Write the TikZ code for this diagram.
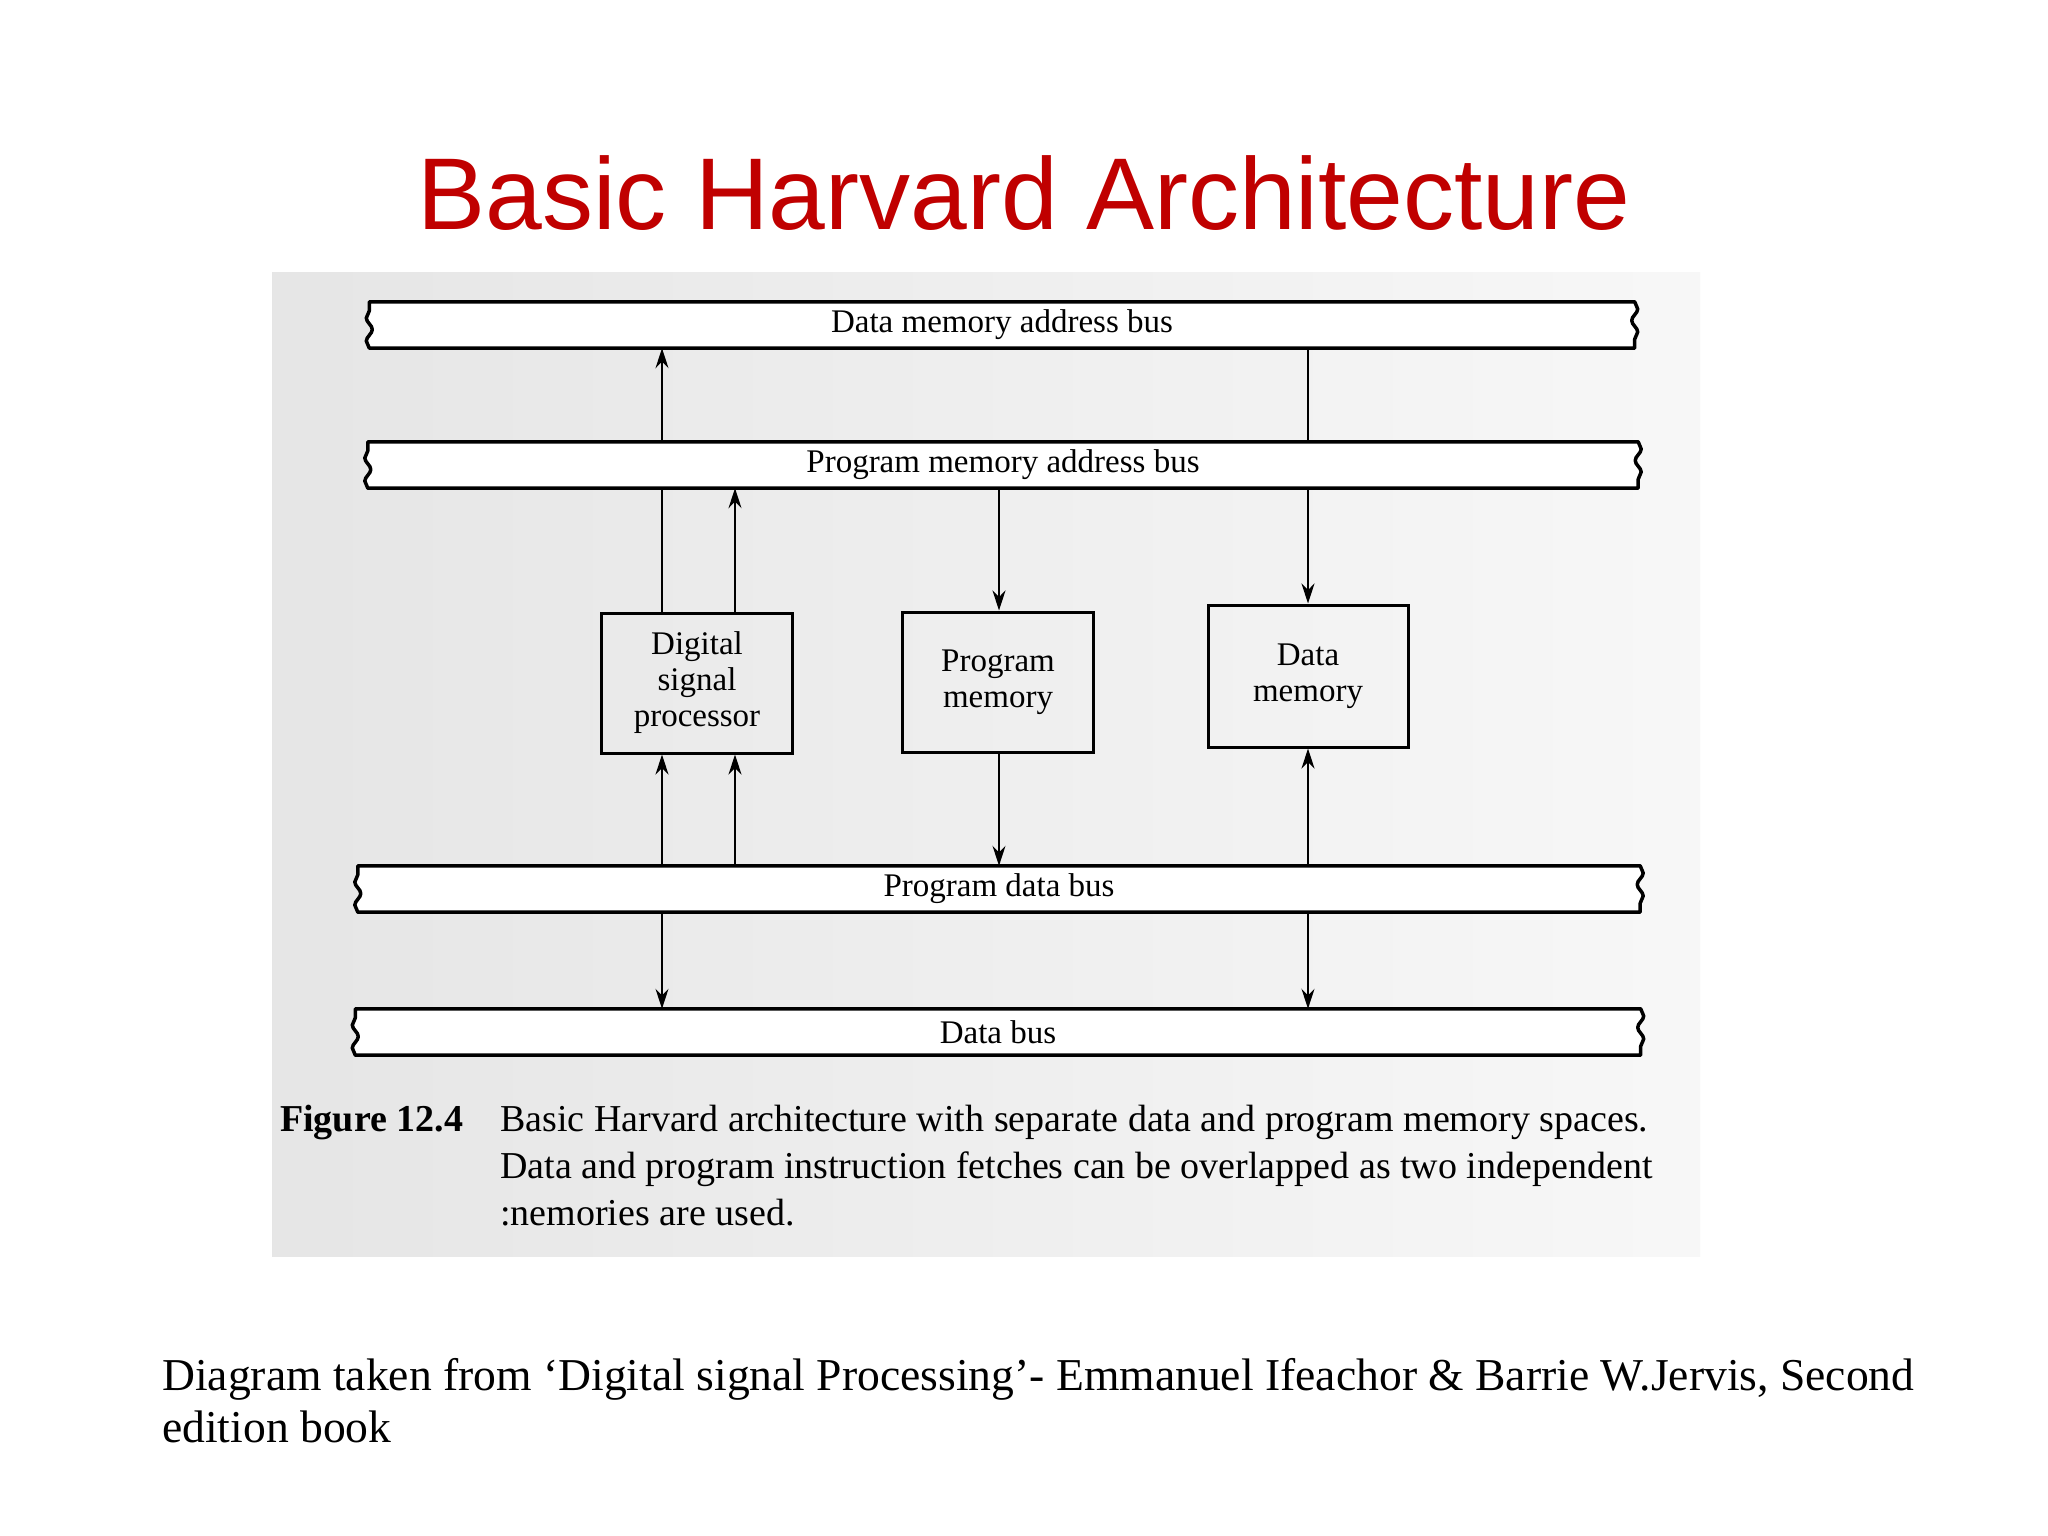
\documentclass[tikz,border=0pt]{standalone}
\usepackage{fontspec}
\setmainfont{Liberation Serif}
\newfontfamily\headfont{Liberation Sans}
\usetikzlibrary{arrows.meta,backgrounds,decorations.pathmorphing}

\definecolor{headred}{HTML}{C00000}

\tikzstyle{bus}=[rectangle,minimum height=46pt,inner sep=0pt,font=\fontsize{33}{36}\selectfont]
\tikzstyle{unit}=[rectangle,draw,line width=3pt,minimum width=191pt,minimum height=140pt,inner sep=0pt,align=center,font=\fontsize{33}{36}\selectfont]
\tikzstyle{link}=[line width=1.6pt,>={Stealth[length=20pt,width=13pt]}]
\tikzstyle{busedge}=[line width=3.5pt,fill=white,line join=round]
\tikzstyle{busend}=[decoration={snake,amplitude=3pt,segment length=23pt}]

% outline of a bus, cut off at both ends
\newcommand{\drawbus}[1]{%
  \draw[busedge] (#1.north west) -- (#1.north east)
    decorate[busend] {-- (#1.south east)} -- (#1.south west)
    decorate[busend] {-- (#1.north west)} -- cycle;}

\begin{document}
\begin{tikzpicture}[x=1pt,y=-1pt]
\useasboundingbox (0,0) rectangle (2048,1536);

\node[anchor=base,inner sep=0pt,text=headred,font=\headfont\fontsize{102}{110}\selectfont] (title) at (1024,229) {Basic Harvard Architecture};

% the four buses
\node[bus,minimum width=1265pt] (dmab) at (1002,325) {Data memory address bus};
\node[bus,minimum width=1270pt] (pmab) at (1003,465) {Program memory address bus};
\node[bus,minimum width=1282pt] (pdb) at (999,889) {Program data bus};
\node[bus,minimum width=1285pt] (db) at (998,1032) {Data bus};

% processor and memories
\node[unit] (dsp) at (697,683) {Digital\\signal\\processor};
\node[unit] (pm) at (998,682) {Program\\memory};
\node[unit,minimum width=200pt,minimum height=142pt] (dm) at (1308,676) {Data\\memory};

\coordinate (la) at (662,0);
\coordinate (lb) at (735,0);
\coordinate (lc) at (999,0);
\coordinate (ld) at (1308,0);

% caption of the book figure (base = last line)
\node[anchor=base west,inner sep=0pt,font=\bfseries\fontsize{38}{47}\selectfont] (fig) at (280,1131) {Figure 12.4};
\node[anchor=base west,inner sep=0pt,align=left,font=\fontsize{38}{47}\selectfont] (caption) at (500,1225) {Basic Harvard architecture with separate data and program memory spaces.\\Data and program instruction fetches can be overlapped as two independent\\:nemories are used.};

\node[anchor=base west,inner sep=0pt,align=left,font=\fontsize{45.6}{52}\selectfont] (source) at (162,1442) {Diagram taken from ‘Digital signal Processing’- Emmanuel Ifeachor \& Barrie W.Jervis, Second\\edition book};

\begin{scope}[on background layer]
  \fill[white] (0,0) rectangle (2048,1536);
  \fill[left color=black!10,right color=black!3] (272,272) rectangle (1700,1256);
  % connectors, the buses cover them where they cross
  \draw[link,->] (dsp.north -| la) -- (dmab.south -| la);
  \draw[link,->] (dsp.north -| lb) -- (pmab.south -| lb);
  \draw[link,->] (pmab.south -| lc) -- (pm.north -| lc);
  \draw[link,->] (dmab.south -| ld) -- (dm.north -| ld);
  \draw[link,<->] (db.north -| la) -- (dsp.south -| la);
  \draw[link,->] (pdb.north -| lb) -- (dsp.south -| lb);
  \draw[link,->] (pm.south -| lc) -- (pdb.north -| lc);
  \draw[link,<->] (db.north -| ld) -- (dm.south -| ld);
  \drawbus{dmab}
  \drawbus{pmab}
  \drawbus{pdb}
  \drawbus{db}
\end{scope}
\end{tikzpicture}
\end{document}
